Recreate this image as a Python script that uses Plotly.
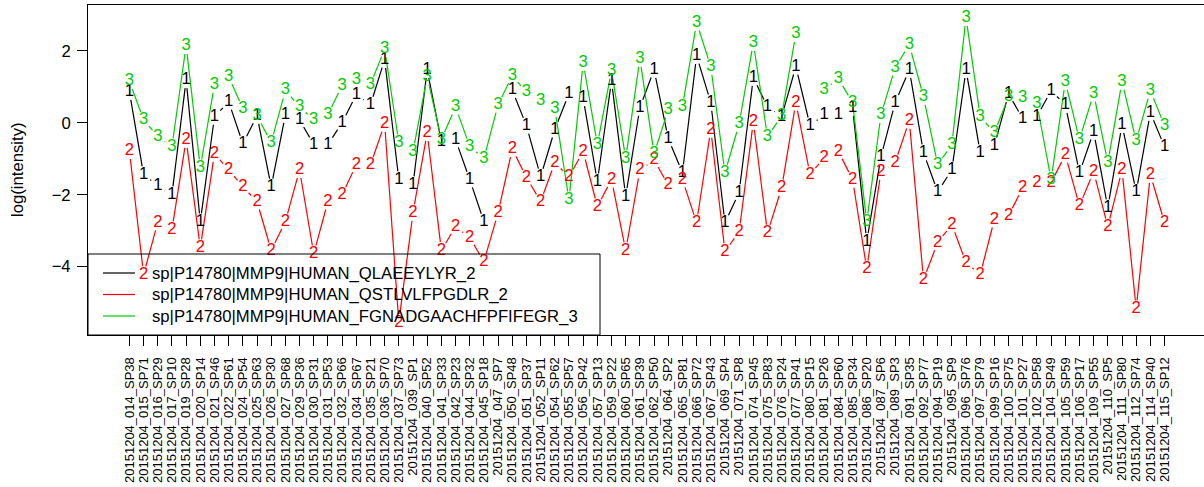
import math
import plotly.graph_objects as go

samples = [
    "20151204_014_SP38", "20151204_015_SP71", "20151204_016_SP29", "20151204_017_SP10",
    "20151204_019_SP28", "20151204_020_SP14", "20151204_021_SP46", "20151204_022_SP61",
    "20151204_024_SP54", "20151204_025_SP63", "20151204_026_SP30", "20151204_027_SP68",
    "20151204_029_SP36", "20151204_030_SP31", "20151204_031_SP53", "20151204_032_SP66",
    "20151204_034_SP67", "20151204_035_SP21", "20151204_036_SP70", "20151204_037_SP73",
    "20151204_039_SP1", "20151204_040_SP52", "20151204_041_SP33", "20151204_042_SP23",
    "20151204_044_SP32", "20151204_045_SP18", "20151204_047_SP7", "20151204_050_SP48",
    "20151204_051_SP37", "20151204_052_SP11", "20151204_054_SP62", "20151204_055_SP57",
    "20151204_056_SP42", "20151204_057_SP13", "20151204_059_SP22", "20151204_060_SP65",
    "20151204_061_SP39", "20151204_062_SP50", "20151204_064_SP2", "20151204_065_SP81",
    "20151204_066_SP72", "20151204_067_SP43", "20151204_069_SP4", "20151204_071_SP8",
    "20151204_074_SP45", "20151204_075_SP83", "20151204_076_SP24", "20151204_077_SP41",
    "20151204_080_SP15", "20151204_081_SP26", "20151204_084_SP60", "20151204_085_SP34",
    "20151204_086_SP20", "20151204_087_SP6", "20151204_089_SP3", "20151204_091_SP35",
    "20151204_092_SP77", "20151204_094_SP19", "20151204_095_SP9", "20151204_096_SP76",
    "20151204_097_SP79", "20151204_099_SP16", "20151204_100_SP75", "20151204_101_SP27",
    "20151204_102_SP58", "20151204_104_SP49", "20151204_105_SP59", "20151204_106_SP17",
    "20151204_109_SP55", "20151204_110_SP5", "20151204_111_SP80", "20151204_112_SP74",
    "20151204_114_SP40", "20151204_115_SP12",
]

NA = None

qlaeeylyr = [
    0.86, -1.44, -1.75, -2.0, 1.19, -2.75, 0.17, 0.58, -0.58, 0.19,
    -1.78, 0.22, 0.08, -0.61, -0.61, 0.0, 0.78, 0.5, 1.75, -1.58,
    -1.72, 1.47, -0.53, -0.47, -1.58, -2.75, NA, 0.9, -0.08, -1.5,
    -0.19, 0.81, 0.69, -1.64, 1.17, -2.05, 0.42, 1.47, -0.44, -1.39,
    1.86, 0.56, -2.78, -1.94, 1.25, 0.44, 0.17, 1.56, -0.08, 0.22,
    0.22, 0.42, -3.3, -0.95, 0.56, 1.47, -0.83, -1.92, -1.31, 1.47,
    -0.83, -0.64, 0.8, 0.11, 0.17, 0.89, 0.5, -1.39, -0.25, -2.36,
    -0.06, -1.92, 0.28, -0.67,
]

qstlvlfpgdlr = [
    -0.78, -4.22, -2.77, -2.97, -0.47, -3.47, -0.86, -1.31, -1.78, -2.19,
    -3.55, -2.75, -1.31, -3.64, -2.19, -2.0, -1.17, -1.17, -0.03, -5.55,
    -2.5, -0.28, -3.55, -2.89, -3.19, -3.86, -2.5, -0.73, -1.52, -2.19,
    -1.11, -1.5, -0.8, -2.33, -1.58, -3.55, -1.32, -1.03, -1.74, -1.58,
    -2.78, -0.19, -3.58, -3.03, 0.03, -3.06, -1.81, 0.56, -1.44, -0.97,
    -0.8, -1.58, -4.06, -1.36, -1.11, 0.06, -4.36, -3.33, -2.83, -3.89,
    -4.22, -2.69, -2.58, -1.81, -1.67, -1.67, -0.89, -2.31, -1.36, -2.89,
    -1.31, -5.17, -1.44, -2.78,
]

fgnadgaachfpfifegr = [
    1.15, 0.08, -0.38, -0.66, 2.14, -1.25, 1.06, 1.28, 0.39, 0.19,
    -0.55, 0.9, 0.44, 0.08, 0.22, 1.03, 1.19, 1.06, 2.05, -0.55,
    -0.8, 1.28, -0.47, 0.44, -0.66, -1.0, 0.5, 1.3, 0.85, 0.61,
    0.39, -2.14, 1.67, -0.61, 1.45, -1.0, 1.78, -0.86, 0.36, 0.44,
    2.78, 1.56, -1.39, -0.03, 2.22, -0.39, 0.19, 2.47, NA, 0.92,
    1.22, 0.56, -2.75, 0.22, 1.53, 2.17, 0.72, -1.17, -0.61, 2.92,
    0.17, -0.28, 0.72, 0.69, 0.53, -1.58, 1.14, -0.47, 0.81, -1.11,
    1.14, -0.5, 0.89, -0.08,
]

series_names = [
    "sp|P14780|MMP9|HUMAN_QLAEEYLYR_2",
    "sp|P14780|MMP9|HUMAN_QSTLVLFPGDLR_2",
    "sp|P14780|MMP9|HUMAN_FGNADGAACHFPFIFEGR_3",
]
series_values = [qlaeeylyr, qstlvlfpgdlr, fgnadgaachfpfifegr]
series_symbols = ["1", "2", "3"]
series_colors = ["#000000", "#FF0000", "#00CD00"]

FONT = "Liberation Sans, Arial, Helvetica, sans-serif"
W, H = 1204, 487
ML, MR, MT, MB = 88, 0, 5, 152
PW, PH = W - ML - MR, H - MT - MB
X_RANGE = [-2.92, -2.92 + PW / 14.18]
Y_RANGE = [-5.9, 3.27]
GAP = 8.3  # half character height, as in R type="b"

xs = list(range(len(samples)))


def to_px(x, y):
    px = (x - X_RANGE[0]) / (X_RANGE[1] - X_RANGE[0]) * PW
    py = (y - Y_RANGE[0]) / (Y_RANGE[1] - Y_RANGE[0]) * PH
    return px, py


fig = go.Figure()

for vals, col in zip(series_values, series_colors):
    lx, ly = [], []
    for i in range(len(vals) - 1):
        a, b = vals[i], vals[i + 1]
        if a is None or b is None:
            continue
        p0 = to_px(xs[i], a)
        p1 = to_px(xs[i + 1], b)
        dist = math.hypot(p1[0] - p0[0], p1[1] - p0[1])
        f = GAP / dist
        if f < 0.5:
            x0, x1 = xs[i], xs[i + 1]
            lx += [x0 + f * (x1 - x0), x1 + f * (x0 - x1), None]
            ly += [a + f * (b - a), b + f * (a - b), None]
    fig.add_trace(go.Scatter(x=lx, y=ly, mode="lines",
                             line=dict(color=col, width=1.2),
                             hoverinfo="skip", showlegend=False))

for vals, sym, col, name in zip(series_values, series_symbols, series_colors, series_names):
    px_, py_ = [], []
    for x, v in zip(xs, vals):
        if v is not None:
            px_.append(x)
            py_.append(v)
    fig.add_trace(go.Scatter(x=px_, y=py_, mode="text", text=[sym] * len(px_),
                             textposition="middle center",
                             textfont=dict(family=FONT, size=16.7, color=col),
                             name=name, showlegend=False))

# legend (R-style box, transparent background)
leg_x0, leg_x1 = 0.0, (600 - ML) / PW
leg_y0, leg_y1 = 0.0, (MT + PH - 254) / PH
shapes = [dict(type="rect", xref="paper", yref="paper", x0=leg_x0, x1=leg_x1,
               y0=leg_y0, y1=leg_y1, line=dict(color="black", width=1),
               fillcolor="rgba(0,0,0,0)", layer="above")]
annotations = []
for k, (name, col) in enumerate(zip(series_names, series_colors)):
    ypix = 273 + k * 21.5
    yp = (MT + PH - ypix) / PH
    shapes.append(dict(type="line", xref="paper", yref="paper",
                       x0=(103 - ML) / PW, x1=(135 - ML) / PW, y0=yp, y1=yp,
                       line=dict(color=col, width=1.2), layer="above"))
    annotations.append(dict(xref="paper", yref="paper", x=(150 - ML) / PW, y=yp,
                            xanchor="left", yanchor="middle", text=name, showarrow=False,
                            font=dict(family=FONT, size=16.7, color="black")))

annotations.append(dict(xref="paper", yref="paper", x=0, y=0.5, xshift=-71,
                        xanchor="center", yanchor="middle", text="log(intensity)",
                        textangle=-90, showarrow=False,
                        font=dict(family=FONT, size=16.7, color="black")))

fig.update_layout(
    width=W, height=H,
    margin=dict(l=ML, r=MR, t=MT, b=MB, autoexpand=False),
    paper_bgcolor="white", plot_bgcolor="white",
    showlegend=False,
    shapes=shapes, annotations=annotations,
    font=dict(family=FONT, color="black"),
)
fig.update_xaxes(range=X_RANGE, tickmode="array", tickvals=xs, ticktext=samples,
                 tickangle=-90, tickfont=dict(family=FONT, size=13, color="black"),
                 ticks="outside", ticklen=10, tickcolor="black", tickwidth=1,
                 showline=True, linecolor="black", linewidth=1, mirror=True,
                 showgrid=False, zeroline=False, ticklabelstandoff=6)
fig.update_yaxes(range=Y_RANGE, tickmode="array", tickvals=[-4, -2, 0, 2],
                 tickfont=dict(family=FONT, size=16.7, color="black"),
                 ticks="outside", ticklen=10, tickcolor="black", tickwidth=1,
                 showline=True, linecolor="black", linewidth=1, mirror=False,
                 showgrid=False, zeroline=False, ticklabelstandoff=3)

fig.write_html("out.html", config={"displayModeBar": False},
               post_script="document.body.style.margin='0';document.body.style.overflow='hidden';")
